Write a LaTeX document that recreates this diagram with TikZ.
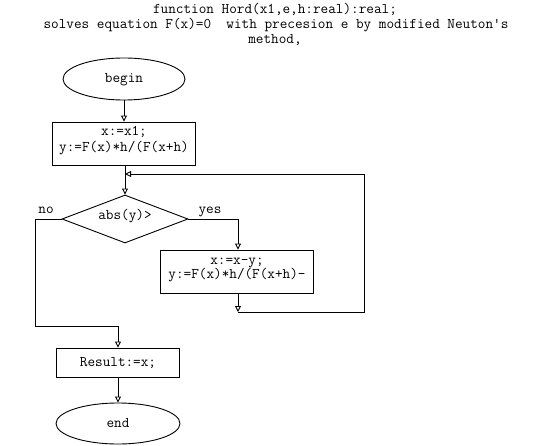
\documentclass[tikz,border=0pt]{standalone}
\usepackage{fontspec}
\usetikzlibrary{shapes.geometric,arrows.meta}
\begin{document}
\begin{tikzpicture}[x=1pt,y=-1pt,
  every node/.style={font=\ttfamily\fontsize{14.8}{15.5}\selectfont, inner sep=0pt},
  line/.style={line width=0.9pt},
  arr/.style={line, -{Triangle[open,width=6pt,length=6pt]}},
  term/.style={draw, line width=0.9pt, ellipse, minimum width=122pt, minimum height=42pt},
  proc/.style={draw, line width=0.9pt, rectangle, align=center},
  cond/.style={draw, line width=0.9pt, diamond, aspect=2.6, minimum width=126pt, minimum height=48pt}]
\useasboundingbox (0,0) rectangle (548,446);
\node[anchor=base] (t1) at (275,14) {function Hord(x1,e,h:real):real;};
\node[anchor=base] (t2) at (276,29) {solves equation F(x)=0\ \ with precesion e by modified Neuton\textquotesingle s};
\node[anchor=base] (t3) at (275,43.5) {method,};

\node[term] (begin) at (124,79) {};
\node[anchor=base] (tbegin) at (124,83) {begin};
\node[proc, minimum width=143pt, minimum height=43pt] (b1) at (123.5,143.5) {};
\node[anchor=base] (tb1a) at (124,136) {x:=x1;};
\node[anchor=base] (tb1b) at (124,152) {y:=F(x)*h/(F(x+h)};
\node[cond] (d) at (125,219) {};
\node[anchor=base] (td) at (125,220) {abs(y)>};
\node[proc, minimum width=153pt, minimum height=43pt] (b2) at (236.5,271.5) {};
\node[anchor=base] (tb2a) at (237,264) {x:=x-y;};
\node[anchor=base] (tb2b) at (237,278) {y:=F(x)*h/(F(x+h)-};
\node[proc, minimum width=123pt, minimum height=29pt] (res) at (117.5,362.5) {};
\node[anchor=base] (tres) at (118,366) {Result:=x;};
\node[term, minimum width=124pt, minimum height=41pt] (end) at (118,423.5) {};
\node[anchor=base] (tend) at (118,427) {end};

\node[anchor=base] (no) at (46,214) {no};
\node[anchor=base] (yes) at (210,214) {yes};

\coordinate (loopin) at (125,174);
\coordinate (b2out) at (238,312);

\draw[arr] (begin.south) -- (b1.north -| begin.south);
\draw[arr] (b1.south -| d.north) -- (d.north);
\draw[arr] (b2out) -- (364,312) -- (364,174) -- (loopin);
\draw[arr] (d.east) -- (238,219) -- (b2.north -| 238,0);
\draw[arr] (b2.south -| b2out) -- (b2out);
\draw[arr] (d.west) -- (35,219) -- (35,326) -- (118,326) -- (res.north -| 118,0);
\draw[arr] (res.south -| 118,0) -- (end.north);
\end{tikzpicture}
\end{document}
